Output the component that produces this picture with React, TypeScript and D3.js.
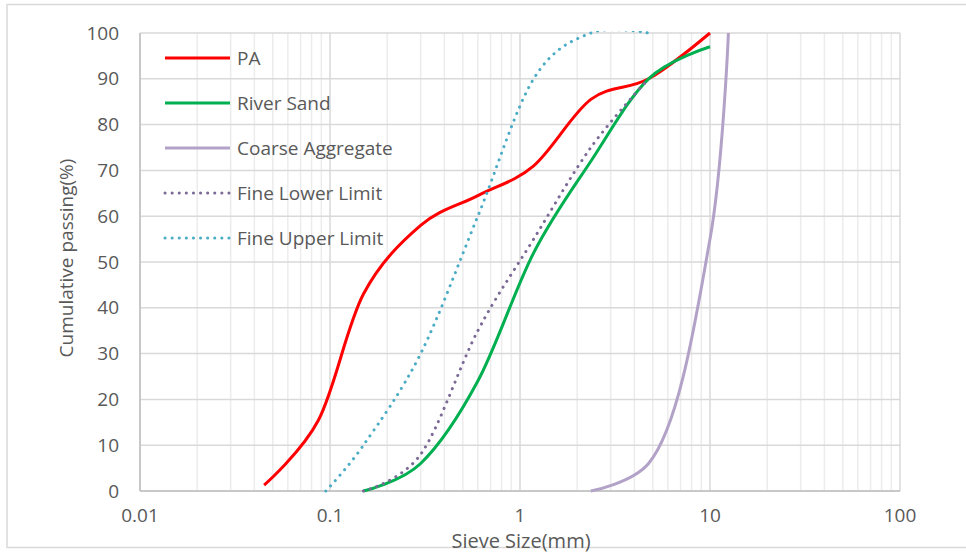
import React from "react";
import * as d3 from "d3";

const paX = [0.045, 0.087, 0.15, 0.3, 0.6, 1.18, 2.36, 4.75, 10];
const paY = [1.3, 15.5, 43, 58, 64.5, 71, 85.5, 90, 100];
const sandX = [0.15, 0.3, 0.6, 1.18, 2.36, 4.75, 10];
const sandY = [0, 6, 24, 52, 72, 90, 97];
const coarseX = [2.36, 4.75, 10, 12.5];
const coarseY = [0, 6, 55, 100];
const lowerX = [0.15, 0.3, 0.6, 1.18, 2.36, 4.75];
const lowerY = [0, 8, 35, 55, 75, 90];
const upperX = [0.095, 0.15, 0.3, 0.6, 1.18, 2.36, 4.75];
const upperY = [0, 10, 30, 60, 90, 100, 100];

const seriesNames = ["PA", "River Sand", "Coarse Aggregate", "Fine Lower Limit", "Fine Upper Limit"];
const seriesColors = ["#ff0000", "#00b050", "#b3a2c7", "#7b6a96", "#4bacc6"];
const seriesDotted = [false, false, false, true, true];
const seriesX = [paX, sandX, coarseX, lowerX, upperX];
const seriesY = [paY, sandY, coarseY, lowerY, upperY];

const xTicks = [0.01, 0.1, 1, 10, 100];
const yTicks = [0, 10, 20, 30, 40, 50, 60, 70, 80, 90, 100];

const FONT = "'Open Sans', sans-serif";
const TXT = "#595959";

export default function App() {
  const W = 966, H = 553;
  const L = 140, R = 900, T = 33, B = 491;
  const x = d3.scaleLog().domain([0.01, 100]).range([L, R]);
  const y = d3.scaleLinear().domain([0, 100]).range([B, T]);

  const minor: number[] = [];
  for (let d = 0; d < 4; d++) {
    const base = xTicks[d];
    for (let k = 2; k <= 9; k++) minor.push(base * k);
  }

  const smooth = d3
    .line<[number, number]>()
    .x((d) => x(d[0]))
    .y((d) => y(d[1]))
    .curve(d3.curveCardinal.tension(0));
  const centripetal = d3
    .line<[number, number]>()
    .x((d) => x(d[0]))
    .y((d) => y(d[1]))
    .curve(d3.curveCatmullRom.alpha(0.5));

  return (
    <svg width={W} height={H} style={{ position: "absolute", left: 0, top: 0, background: "#fff" }}>
      <defs>
        <clipPath id="plotClip">
          <rect x={L - 2} y={T - 2} width={R - L + 4} height={B - T + 4} />
        </clipPath>
      </defs>
      <rect x={7} y={4.5} width={970} height={543} fill="#fff" stroke="#d9d9d9" strokeWidth={1.5} />
      {minor.map((v, i) => (
        <line key={"m" + i} x1={x(v)} x2={x(v)} y1={T} y2={B} stroke="#ececec" strokeWidth={1.5} />
      ))}
      {yTicks.map((v) => (
        <line key={"h" + v} x1={L} x2={R} y1={y(v)} y2={y(v)} stroke="#d9d9d9" strokeWidth={1.5} />
      ))}
      {xTicks.map((v) => (
        <line key={"v" + v} x1={x(v)} x2={x(v)} y1={T} y2={B} stroke="#d9d9d9" strokeWidth={1.5} />
      ))}
      <line x1={L} x2={L} y1={T} y2={B} stroke="#bfbfbf" strokeWidth={1.5} />
      <line x1={L} x2={R} y1={B} y2={B} stroke="#bfbfbf" strokeWidth={1.5} />

      {yTicks.map((v) => (
        <text key={"yt" + v} x={119} y={y(v)} dy="0.35em" textAnchor="end" fontFamily={FONT} fontSize={19} fill={TXT}>
          {v}
        </text>
      ))}
      {xTicks.map((v) => (
        <text key={"xt" + v} x={x(v)} y={522} textAnchor="middle" fontFamily={FONT} fontSize={19} fill={TXT}>
          {String(v)}
        </text>
      ))}
      <text x={521} y={548} textAnchor="middle" fontFamily={FONT} fontSize={20} fill={TXT}>
        Sieve Size(mm)
      </text>
      <text
        transform={`translate(73,258) rotate(-90)`}
        textAnchor="middle"
        fontFamily={FONT}
        fontSize={19}
        fill={TXT}
      >
        Cumulative passing(%)
      </text>

      <g clipPath="url(#plotClip)">
        {seriesNames.map((name, i) => {
          const pts = seriesX[i].map((v, j) => [v, seriesY[i][j]] as [number, number]);
          const gen = i === 2 ? centripetal : smooth;
          return (
            <path
              key={"s" + i}
              d={gen(pts) || ""}
              fill="none"
              stroke={seriesColors[i]}
              strokeWidth={3}
              strokeDasharray={seriesDotted[i] ? "0.1 7" : undefined}
              strokeLinecap={seriesDotted[i] ? "round" : "butt"}
            />
          );
        })}
      </g>

      {seriesNames.map((name, i) => {
        const ly = 58 + i * 45;
        return (
          <g key={"lg" + i}>
            <line
              x1={165}
              x2={230}
              y1={ly}
              y2={ly}
              stroke={seriesColors[i]}
              strokeWidth={3}
              strokeDasharray={seriesDotted[i] ? "0.1 7" : undefined}
              strokeLinecap={seriesDotted[i] ? "round" : "butt"}
            />
            <text x={237} y={ly} dy="0.35em" fontFamily={FONT} fontSize={19} fill={TXT}>
              {name}
            </text>
          </g>
        );
      })}
    </svg>
  );
}
